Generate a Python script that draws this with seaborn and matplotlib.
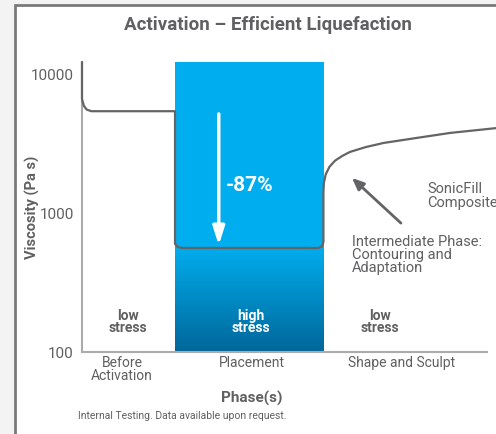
import numpy as np
import pandas as pd
import matplotlib
matplotlib.use("Agg")
import matplotlib.pyplot as plt
import seaborn as sns
from matplotlib.patches import Rectangle
from matplotlib.colors import LinearSegmentedColormap

# --- data ---
# x in "phase units": Before Activation 0-1, Placement 1-2.6, Shape and Sculpt 2.6-4.35
curve_x = [0.0, 0.0, 0.02, 0.05, 0.1, 1.0, 1.0, 1.02, 1.06, 1.1, 2.54, 2.58, 2.595,
           2.595, 2.60, 2.62, 2.66, 2.72, 2.80, 2.88, 3.05, 3.24, 3.60, 3.96, 4.45]
curve_y = [12200, 6600, 5900, 5550, 5400, 5400, 600, 575, 562, 560, 560, 575, 620,
           1400, 1650, 1900, 2150, 2380, 2580, 2750, 2980, 3190, 3470, 3770, 4080]

phase_edges = [0.0, 1.0, 2.6, 4.35]
phase_names = ["Before\nActivation", "Placement", "Shape and Sculpt"]
phase_tick_x = [0.43, 1.83, 3.44]
stress_labels = ["low\nstress", "high\nstress", "low\nstress"]
stress_x = [0.49, 1.82, 3.2]

y_ticks = [100, 1000, 10000]
drop_from, drop_to = 5400, 560
drop_pct = "-87%"

TEXT = "#606062"
LINE = "#646466"
BLUE_TOP = "#00AEEF"
BLUE_BOT = "#00679A"
FONT = ["Liberation Sans Narrow", "Roboto", "DejaVu Sans"]

sns.set_style("white")
plt.rcParams["font.family"] = FONT

fig = plt.figure(figsize=(4.96, 4.34), dpi=100)
fig.patch.set_facecolor("#f3f3f3")

# panel frame
panel = Rectangle((15 / 496, -0.1), 1.2, 1.1 - 5 / 434, transform=fig.transFigure,
                  facecolor="white", edgecolor="#7a7a7a", linewidth=2, zorder=-5)
fig.patches.append(panel)

ax = fig.add_axes([82 / 496, 1 - 352 / 434, 1 - 82 / 496, (352 - 62) / 434])
ax.set_zorder(2)
ax.set_facecolor("none")
ax.set_yscale("log")
ax.set_xlim(0, 4.45)
ax.set_ylim(100, 12200)

# placement band: solid top + gradient at the bottom
x0, x1 = phase_edges[1], phase_edges[2]
grad_top = 600
ax.fill_between([x0, x1], grad_top, 12200, color=BLUE_TOP, lw=0, zorder=1)
cmap = LinearSegmentedColormap.from_list("b", [BLUE_BOT, BLUE_TOP])
levels = np.logspace(2, np.log10(grad_top), 60)
for i in range(len(levels) - 1):
    ax.fill_between([x0, x1], levels[i], levels[i + 1] * 1.002,
                    color=cmap(i / (len(levels) - 2)), lw=0, zorder=1)

df = pd.DataFrame({"x": curve_x, "y": curve_y})
sns.lineplot(data=df, x="x", y="y", sort=False, estimator=None, color=LINE,
             lw=1.6, ax=ax, zorder=3, clip_on=False)

# white drop arrow
xa = 1.47
ax.annotate("", xy=(xa, drop_to), xytext=(xa, drop_from),
            arrowprops=dict(arrowstyle="-|>,head_length=1.1,head_width=0.35",
                            color="white", lw=2.5), zorder=4)
ax.text(1.8, 1590, drop_pct, color="white", fontsize=15, fontweight="bold",
        ha="center", va="center", zorder=4)

# stress labels
for sx, lab, i in zip(stress_x, stress_labels, range(3)):
    ax.text(sx, 165, lab, ha="center", va="center", fontsize=10,
            fontweight="bold", color="white" if i == 1 else TEXT,
            linespacing=0.85, zorder=4)

# annotations
ax.annotate("", xy=(2.88, 1845), xytext=(3.45, 820),
            arrowprops=dict(arrowstyle="-|>,head_length=0.7,head_width=0.3",
                            color=LINE, lw=2))
ax.text(2.9, 700, "Intermediate Phase:\nContouring and\nAdaptation",
        fontsize=10.5, color=TEXT, va="top", ha="left", linespacing=0.95)
ax.text(3.71, 1325, "SonicFill\nComposite", fontsize=10.5, color=TEXT,
        va="center", ha="left", linespacing=0.95, clip_on=False)

# axes styling
for s in ["top", "right"]:
    ax.spines[s].set_visible(False)
for s in ["left", "bottom"]:
    ax.spines[s].set_color("#ababab")
    ax.spines[s].set_linewidth(1.5)
ax.spines["bottom"].set_bounds(0, 4.35)
ax.set_yticks(y_ticks)
ax.set_yticklabels([str(t) for t in y_ticks], fontsize=11, color=TEXT)
ax.yaxis.set_minor_locator(matplotlib.ticker.NullLocator())
ax.set_xticks(phase_tick_x)
ax.set_xticklabels(phase_names, fontsize=10, color=TEXT, linespacing=0.85)
ax.tick_params(axis="both", length=0, pad=6)
ax.tick_params(axis="x", pad=3)

ax.set_ylabel("Viscosity (Pa s)", fontsize=10.5, fontweight="bold", color=TEXT)
ax.yaxis.set_label_coords((40 - 82) / 414, 0.5)
ax.set_xlabel("Phase(s)", fontsize=11, fontweight="bold", color=TEXT)
ax.xaxis.set_label_coords((252 - 82) / 414, -0.135)

fig.text(268 / 496, 1 - 25 / 434, "Activation \u2013 Efficient Liquefaction",
         ha="center", va="center", fontsize=13.5, fontweight="bold", color=TEXT)
fig.text(78 / 496, 1 - 416 / 434, "Internal Testing. Data available upon request.",
         ha="left", va="center", fontsize=7.5, color=TEXT)

fig.savefig("out.png", dpi=100, facecolor=fig.get_facecolor())
